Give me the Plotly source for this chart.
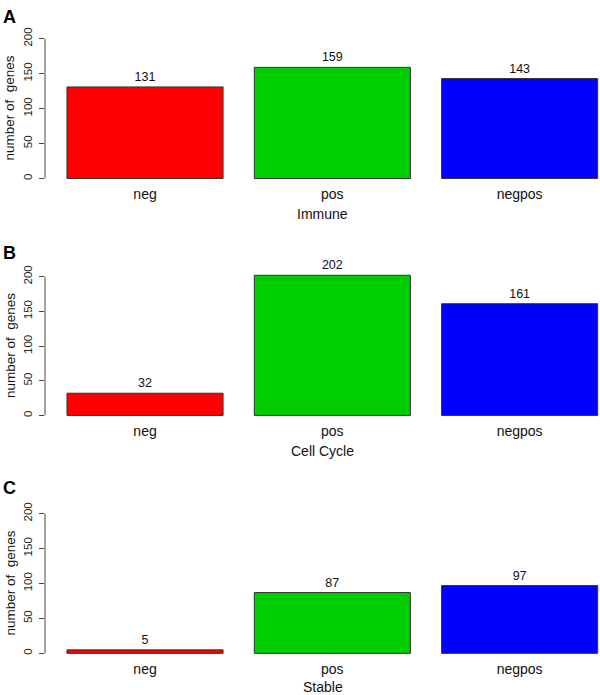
import plotly.graph_objects as go

categories = ["neg", "pos", "negpos"]
immune = [131, 159, 143]
cell_cycle = [32, 202, 161]
stable = [5, 87, 97]
panel_titles = ["Immune", "Cell Cycle", "Stable"]
panel_letters = ["A", "B", "C"]
colors = ["#FF0000", "#00CD00", "#0000FF"]
y_ticks = [0, 50, 100, 150, 200]

W, H = 600, 695
series = [immune, cell_cycle, stable]
# pixel positions (from top) of y=0 and y=200 in each panel
zero_px = [174, 413, 653]
top_px = [33, 273, 512]
letter_px = [11, 249, 486]
title_px = [210, 449, 687]

fig = go.Figure()
FONT = "Liberation Sans, Arial, Helvetica, sans-serif"
ax_color = "#444444"

for i, vals in enumerate(series):
    xa = "x" if i == 0 else f"x{i+1}"
    ya = "y" if i == 0 else f"y{i+1}"
    fig.add_trace(go.Bar(
        x=categories, y=vals, xaxis=xa, yaxis=ya,
        marker=dict(color=colors, line=dict(color="#333333", width=1)),
        text=[str(v) for v in vals], textposition="outside",
        textfont=dict(size=12.5, color="#111111", family=FONT),
        cliponaxis=False, showlegend=False, hoverinfo="skip",
    ))
    ppu = (zero_px[i] - top_px[i]) / 200.0
    bot = zero_px[i] + 8 * ppu
    top = top_px[i] - 8 * ppu
    dom_y = [1 - bot / H, 1 - top / H]
    xkey = "xaxis" if i == 0 else f"xaxis{i+1}"
    ykey = "yaxis" if i == 0 else f"yaxis{i+1}"
    fig.update_layout(**{
        xkey: dict(domain=[45 / W, 1.0], range=[-0.534, 2.429], anchor=ya,
                   showline=False, showgrid=False, zeroline=False, ticks="",
                   tickfont=dict(size=14, color="#111111", family=FONT),
                   fixedrange=True),
        ykey: dict(domain=dom_y, range=[-8, 208], anchor=xa,
                   tickvals=y_ticks, ticktext=[str(t) for t in y_ticks],
                   tickangle=-90, ticks="outside", ticklen=5, tickcolor=ax_color,
                   tickfont=dict(size=11.5, color="#222222", family=FONT),
                   showline=False, showgrid=False, zeroline=False,
                   ticklabelstandoff=2, fixedrange=True),
    })
    # y axis line from 0 to 200
    fig.add_shape(type="line", xref="paper", yref=ya, x0=45 / W, x1=45 / W,
                  y0=0, y1=200, line=dict(color=ax_color, width=1))
    # y title
    fig.add_annotation(text="number of  genes", xref="paper", yref="paper",
                       x=10 / W, y=1 - (zero_px[i] + top_px[i]) / 2 / H,
                       textangle=-90, showarrow=False, xanchor="center", yanchor="middle",
                       font=dict(size=13.5, color="#111111", family=FONT))
    # x title
    fig.add_annotation(text=panel_titles[i], xref="paper", yref="paper",
                       x=(45 + 600) / 2 / W, y=1 - title_px[i] / H,
                       showarrow=False, xanchor="center", yanchor="middle",
                       font=dict(size=14, color="#111111", family=FONT))
    # panel letter
    fig.add_annotation(text="<b>" + panel_letters[i] + "</b>", xref="paper", yref="paper",
                       x=9 / W, y=1 - letter_px[i] / H,
                       showarrow=False, xanchor="center", yanchor="middle",
                       font=dict(size=18, color="#000000", family=FONT))

fig.update_layout(width=W, height=H, margin=dict(l=0, r=0, t=0, b=0),
                  paper_bgcolor="white", plot_bgcolor="white",
                  bargap=0.1667, font=dict(family=FONT))
fig.write_html("out.html", config={"displayModeBar": False},
               post_script="document.body.style.margin='0px';document.body.style.overflow='hidden';")
